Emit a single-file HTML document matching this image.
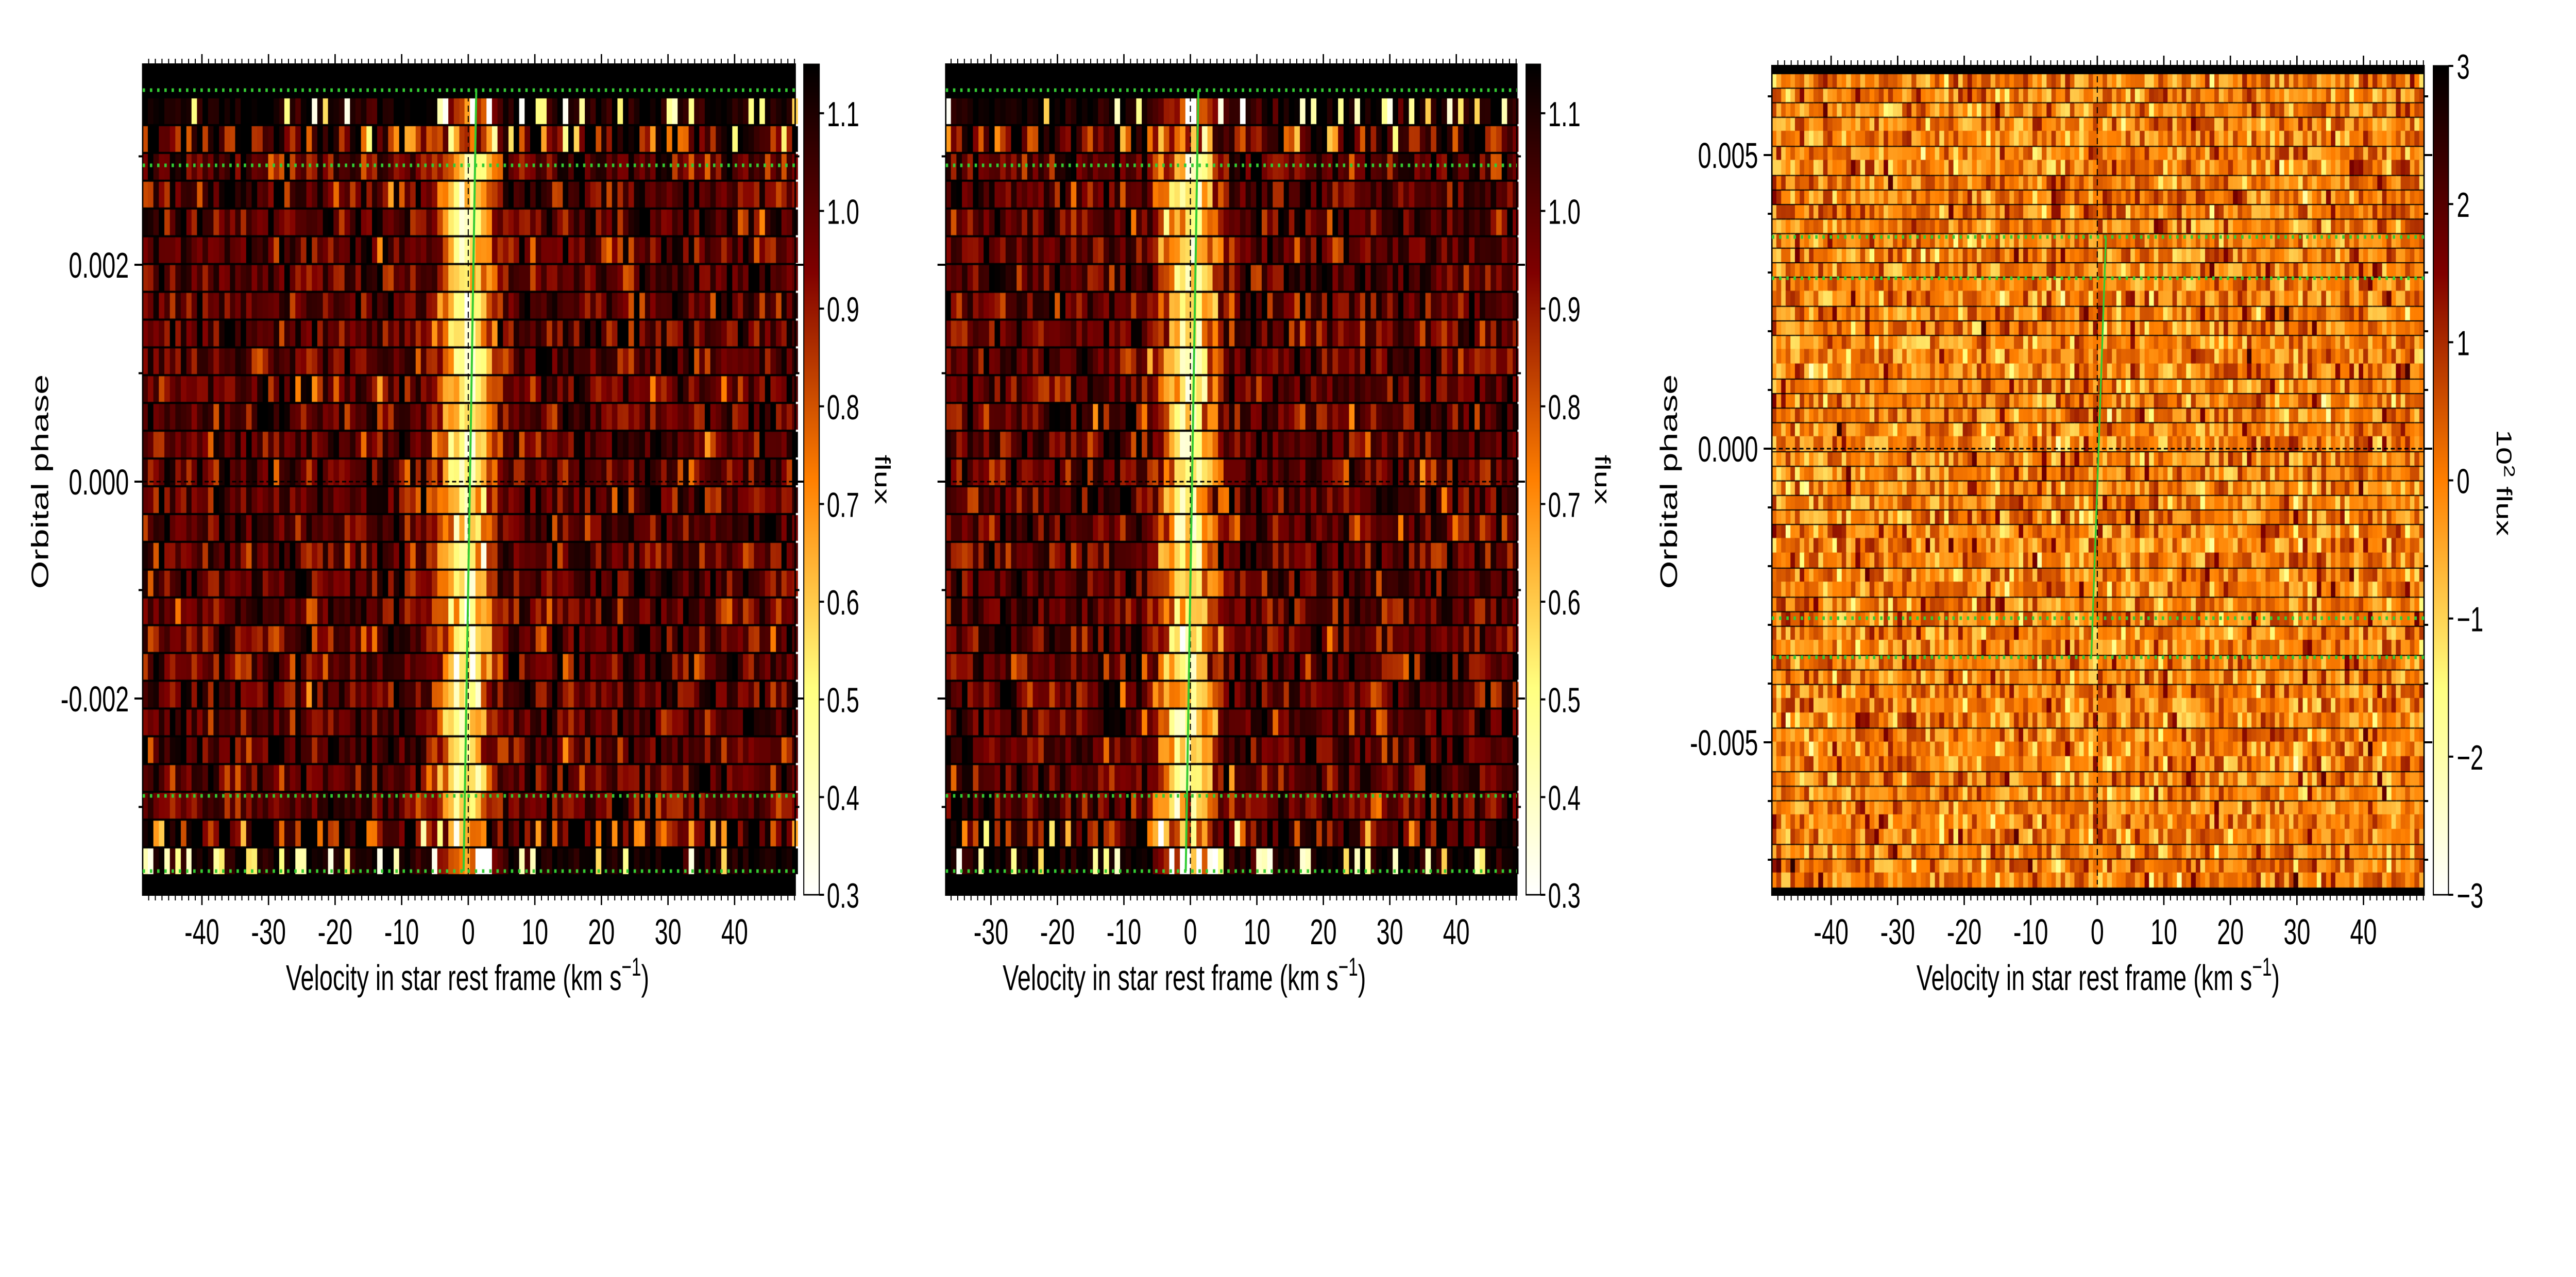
<!DOCTYPE html>
<html><head><meta charset="utf-8"><style>
html,body{margin:0;padding:0;background:#fff;overflow:hidden;}
#w{position:relative;width:7493px;height:2479px;overflow:hidden;transform-origin:0 0;}
canvas,svg{position:absolute;left:0;top:0;}
text{font-family:"Liberation Sans",sans-serif;fill:#000;}
</style></head><body><div id="w">
<canvas id="c" width="7493" height="2479"></canvas>
<svg id="s" width="7493" height="2479" xmlns="http://www.w3.org/2000/svg">
<g font-size="70">
<text x="1360" y="1922" text-anchor="middle">Velocity in star rest frame (km s<tspan dy="-28" font-size="50">−1</tspan><tspan dy="28">)</tspan></text>
<text x="3445" y="1922" text-anchor="middle">Velocity in star rest frame (km s<tspan dy="-28" font-size="50">−1</tspan><tspan dy="28">)</tspan></text>
<text x="6103" y="1922" text-anchor="middle">Velocity in star rest frame (km s<tspan dy="-28" font-size="50">−1</tspan><tspan dy="28">)</tspan></text>
<text transform="translate(140,935) rotate(-90)" text-anchor="middle">Orbital phase</text>
<text transform="translate(4878,935) rotate(-90)" text-anchor="middle">Orbital phase</text>
<text transform="translate(2545,931) rotate(90)" text-anchor="middle" font-size="62">flux</text>
<text transform="translate(4640,931) rotate(90)" text-anchor="middle" font-size="62">flux</text>
<text transform="translate(7262,937) rotate(90)" text-anchor="middle" font-size="62">10<tspan dy="-22" font-size="44">2</tspan><tspan dy="22"> flux</tspan></text>
</g>
<g id="t"></g>
</svg>
</div>
<script>
(function(){var W=window.innerWidth||document.documentElement.clientWidth||7493;var H=window.innerHeight||document.documentElement.clientHeight||2479;var sx=W/7493,sy=H/2479;if(Math.abs(sx-1)>0.01||Math.abs(sy-1)>0.01){document.getElementById('w').style.transform='scale('+sx+','+sy+')';}})();
var seed=12345;function rnd(){seed=(seed*1103515245+12345)%2147483648;return seed/2147483648;}
function gauss(){var u=rnd()||1e-9,v=rnd();return Math.sqrt(-2*Math.log(u))*Math.cos(6.2832*v);}
function cmap(t){t=Math.max(0,Math.min(1,t));var x=1-t;var r=Math.min(1,2*x),g=Math.max(0,Math.min(1,2*x-0.5)),b=Math.max(0,Math.min(1,2*x-1));return 'rgb('+Math.round(r*255)+','+Math.round(g*255)+','+Math.round(b*255)+')';}
var c=document.getElementById('c').getContext('2d');
var NS='http://www.w3.org/2000/svg',T=document.getElementById('t');
function el(n,a,txt){var e=document.createElementNS(NS,n);for(var k in a)e.setAttribute(k,a[k]);if(txt!=null)e.textContent=txt;T.appendChild(e);return e;}
function line(x1,y1,x2,y2,w,col,dash){var a={x1:x1,y1:y1,x2:x2,y2:y2,stroke:col||'#000','stroke-width':w||4};if(dash)a['stroke-dasharray']=dash;el('line',a);}
function txt(x,y,s,anc,fs){el('text',{x:x,y:y,'text-anchor':anc||'middle','font-size':fs||70},s);}

function spectral(P){
  var X=function(v){return P.x0+(v-P.vmin)/(P.vmax-P.vmin)*(P.x1-P.x0);};
  c.fillStyle='#000';c.fillRect(P.x0,P.y0,P.x1-P.x0,P.y1-P.y0);
  var n=28,ry0=189,rh=(1699-189)/n,bw=0.82;
  for(var i=0;i<n;i++){
    var noise=(i==0||i==n-1)?0.45:(i==1||i==n-2)?0.2:0.1;
    var vc=0.2-1.0*i/n;var depth=(i<2||i>n-3)?0.35:0.52;
    for(var v=P.vmin;v<P.vmax;v+=bw){
      var val=1.0-depth*Math.exp(-Math.pow((v+bw/2-vc)/2.8,2)/2)+noise*gauss();
      if(i==0||i==n-1){val=1.12+0.05*gauss(); if(rnd()<0.22)val=0.3+0.3*rnd(); val-=0.4*Math.exp(-Math.pow((v-vc)/3,2)/2);}
      c.fillStyle=cmap((val-0.3)/0.85);
      c.fillRect(Math.floor(X(v)),ry0+i*rh+2,Math.ceil(X(v+bw)-X(v))+1,rh-4);
    }
  }
  c.fillStyle='#000';c.fillRect(P.x0,P.y0,P.x1-P.x0,189-P.y0);c.fillRect(P.x0,1699,P.x1-P.x0,P.y1-1699);
  for(var y=P.y0;y<P.y1;y++){c.fillStyle=cmap((P.y1-y)/(P.y1-P.y0));c.fillRect(P.cx0,y,P.cx1-P.cx0,1);}
  el('rect',{x:P.cx0,y:P.y0,width:P.cx1-P.cx0,height:P.y1-P.y0,fill:'none',stroke:'#000','stroke-width':3});
  for(var k=3;k<=11;k++){var val=k/10,yy=P.y1-(val-0.3)/0.85*(P.y1-P.y0);line(P.cx1,yy,P.cx1+14,yy,4);txt(P.cx1+22,yy+25,val.toFixed(1),'start',68);}
  var Y=function(p){return 935-p*210500;};
  axes(P,X,Y,-0.003,0.003,0.002,P.ylab?function(p){return p.toFixed(3).replace('-0.000','0.000');}:null);
  line(X(0),P.y0+40,X(0),P.y1-40,3,'#000','12,8');
  line(P.x0,Y(0),P.x1,Y(0),3,'#000','12,8');
  [175,321,1545,1691].forEach(function(yy){line(P.x0,yy,P.x1,yy,7,'#3c3','7,14');});
  line(X(1.2),175,X(-0.7),1691,6,'#3c3');
}
function axes(P,X,Y,pmin,pmax,pmaj,fmt){
  el('rect',{x:P.x0,y:P.y0,width:P.x1-P.x0,height:P.y1-P.y0,fill:'none',stroke:'#000','stroke-width':4});
  for(var v=Math.ceil(P.vmin);v<=P.vmax;v++){var x=X(v),maj=(v%10==0),L=maj?20:11;
    line(x,P.y0,x,P.y0-L,maj?4:3);line(x,P.y1,x,P.y1+L,maj?4:3);
    if(maj)txt(x,1833,String(v),'middle',70);}
  for(var p=pmin;p<=pmax+1e-9;p+=0.001){var y=Y(p),maj=Math.abs(Math.round(p/pmaj)*pmaj-p)<1e-7,L=maj?24:12;
    line(P.x0,y,P.x0-L,y,4);line(P.x1,y,P.x1+L,y,4);
    if(maj&&fmt)txt(P.x0-40,y+25,fmt(p),'end',70);}
}
spectral({x0:415,x1:2313,y0:125,y1:1737,vmin:-48.9,vmax:49.1,cx0:2338,cx1:2383,ylab:true});
spectral({x0:2751,x1:4412,y0:125,y1:1737,vmin:-36.8,vmax:49.1,cx0:4439,cx1:4481,ylab:false});
(function(){
  var P={x0:5154,x1:7051,y0:128,y1:1737,vmin:-48.9,vmax:49.1,cx0:7078,cx1:7122};
  var X=function(v){return P.x0+(v-P.vmin)/(P.vmax-P.vmin)*(P.x1-P.x0);};
  c.fillStyle='#000';c.fillRect(P.x0,P.y0,P.x1-P.x0,P.y1-P.y0);
  var n=56,ry0=141,rh=(1722-141)/n,bw=0.7;
  for(var i=0;i<n;i++){var sep=rnd()<0.6?3:0;
    for(var v=P.vmin;v<P.vmax;v+=bw){var val=0.65*gauss();
      c.fillStyle=cmap((val+3)/6);c.fillRect(Math.floor(X(v)),ry0+i*rh+sep,Math.ceil(X(v+bw)-X(v))+1,rh-sep+1);}
  }
  for(var y=P.y0;y<P.y1;y++){c.fillStyle=cmap((P.y1-y)/(P.y1-P.y0));c.fillRect(P.cx0,y,P.cx1-P.cx0,1);}
  el('rect',{x:P.cx0,y:P.y0,width:P.cx1-P.cx0,height:P.y1-P.y0,fill:'none',stroke:'#000','stroke-width':3});
  for(var k=-3;k<=3;k++){var yy=P.y1-(k+3)/6*(P.y1-P.y0);line(P.cx1,yy,P.cx1+14,yy,4);txt(P.cx1+24,yy+25,(k<0?'−':'')+Math.abs(k),'start',68);}
  var Y=function(p){return 871-p*114000;};
  axes(P,X,Y,-0.007,0.006,0.005,function(p){return p.toFixed(3).replace('-0.000','0.000');});
  line(X(0),P.y0+20,X(0),P.y1-20,3,'#000','12,8');
  line(P.x0,Y(0),P.x1,Y(0),3,'#000','12,8');
  [460,540,1200,1276].forEach(function(yy){line(P.x0,yy,P.x1,yy,7,'#3c3','7,14');});
  line(X(1.3),460,X(-0.9),1276,5,'#3c3');
})();
</script>
</body></html>
